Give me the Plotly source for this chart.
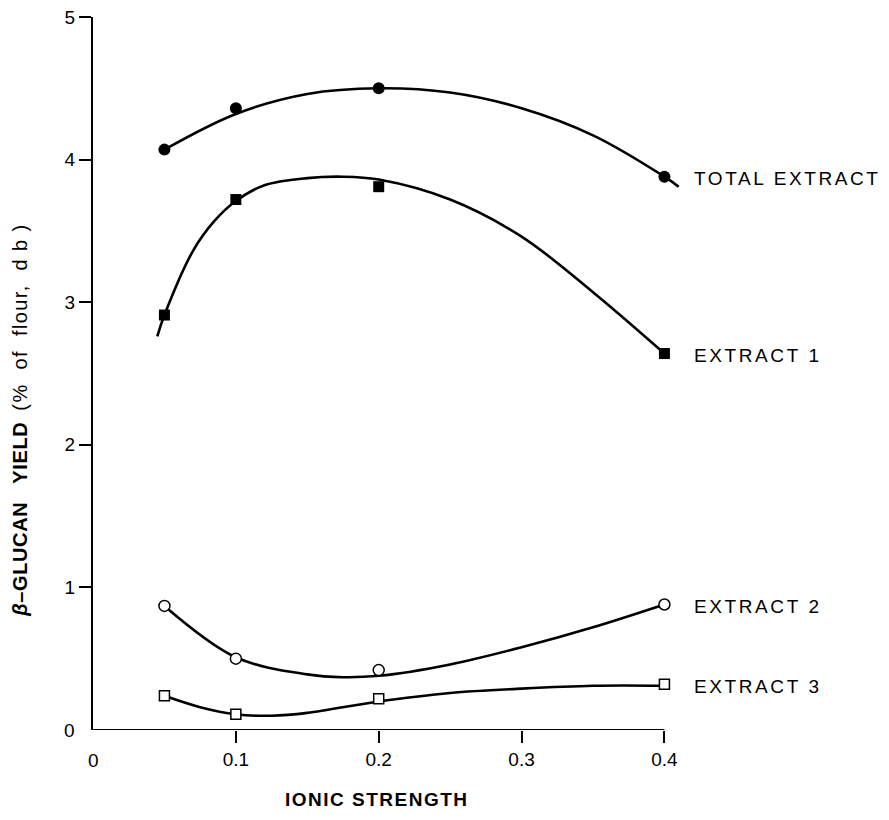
import plotly.graph_objects as go

# ---- data ----
ionic_strength = [0.05, 0.1, 0.2, 0.4]
total_extract = [4.07, 4.36, 4.50, 3.88]
extract_1 = [2.91, 3.72, 3.81, 2.64]
extract_2 = [0.87, 0.50, 0.42, 0.88]
extract_3 = [0.24, 0.11, 0.22, 0.32]

# hand-drawn smooth curves
total_curve_x = [0.05, 0.1, 0.15, 0.2, 0.25, 0.3, 0.35, 0.4, 0.41]
total_curve_y = [4.07, 4.32, 4.46, 4.50, 4.47, 4.36, 4.17, 3.88, 3.81]
ext1_curve_x = [0.045, 0.05, 0.07, 0.085, 0.1, 0.12, 0.15, 0.175, 0.2, 0.25, 0.3, 0.35, 0.4]
ext1_curve_y = [2.76, 2.91, 3.36, 3.57, 3.71, 3.82, 3.87, 3.88, 3.86, 3.72, 3.46, 3.07, 2.64]
ext2_curve_x = [0.05, 0.1, 0.15, 0.175, 0.2, 0.25, 0.3, 0.35, 0.4]
ext2_curve_y = [0.87, 0.51, 0.39, 0.37, 0.38, 0.46, 0.58, 0.72, 0.88]
ext3_curve_x = [0.05, 0.075, 0.1, 0.125, 0.15, 0.2, 0.25, 0.3, 0.35, 0.4]
ext3_curve_y = [0.24, 0.16, 0.11, 0.10, 0.12, 0.20, 0.26, 0.29, 0.31, 0.31]

series_names = ["TOTAL EXTRACT", "EXTRACT 1", "EXTRACT 2", "EXTRACT 3"]
x_tick_vals = [0.1, 0.2, 0.3, 0.4]
x_tick_text = ["0.1", "0.2", "0.3", "0.4"]
y_tick_vals = [1, 2, 3, 4, 5]
y_tick_text = ["1", "2", "3", "4", "5"]

FONT = "Liberation Sans, Arial"

fig = go.Figure()

series = [
    (total_curve_x, total_curve_y, total_extract, dict(symbol="circle", size=12, color="black")),
    (ext1_curve_x, ext1_curve_y, extract_1, dict(symbol="square", size=11, color="black")),
    (ext2_curve_x, ext2_curve_y, extract_2, dict(symbol="circle", size=11, color="white",
                                                  line=dict(color="black", width=1.5))),
    (ext3_curve_x, ext3_curve_y, extract_3, dict(symbol="square", size=10, color="white",
                                                  line=dict(color="black", width=1.5))),
]

for (cx, cy, vals, mk), name in zip(series, series_names):
    fig.add_trace(go.Scatter(x=cx, y=cy, mode="lines", line=dict(color="black", width=2.6, shape="spline", smoothing=1.0),
                             showlegend=False, hoverinfo="skip", cliponaxis=False))
    fig.add_trace(go.Scatter(x=ionic_strength, y=vals, mode="markers", marker=mk, name=name,
                             showlegend=False, cliponaxis=False))
    fig.add_annotation(x=ionic_strength[-1], y=vals[-1], xref="x", yref="y",
                       text="<span style='letter-spacing:2.6px'>" + name + "</span>",
                       showarrow=False, xanchor="left", yanchor="middle", xshift=28, yshift=-2,
                       font=dict(family=FONT, size=19, color="black"))

# x axis line (from 0 to the last tick)
fig.add_shape(type="line", xref="x", yref="y", x0=0, x1=max(x_tick_vals), y0=0, y1=0,
              line=dict(color="black", width=2))

# zero labels at the origin (no tick marks there in the original)
fig.add_annotation(x=0, y=0, xref="x", yref="y", text="0", showarrow=False,
                   xanchor="center", yanchor="top", yshift=-18, font=dict(family=FONT, size=19, color="black"))
fig.add_annotation(x=0, y=0, xref="x", yref="y", text="0", showarrow=False,
                   xanchor="right", yanchor="middle", xshift=-16, font=dict(family=FONT, size=19, color="black"))

# axis titles
fig.add_annotation(xref="paper", yref="paper", x=0.473, y=-0.098,
                   text="<b><span style='letter-spacing:1.5px'>IONIC STRENGTH</span></b>",
                   showarrow=False, xanchor="center", yanchor="middle",
                   font=dict(family=FONT, size=19, color="black"))
fig.add_annotation(xref="paper", yref="paper", x=-0.122, y=0.435, textangle=-90,
                   text="<b><span style='letter-spacing:0.6px'><i>β</i>–GLUCAN   YIELD</span></b>  "
                        "<span style='font-size:20px;letter-spacing:1.4px'>(%  of  flour,  d b )</span>",
                   showarrow=False, xanchor="center", yanchor="middle",
                   font=dict(family=FONT, size=20, color="black"))

fig.update_layout(
    width=889, height=820,
    margin=dict(l=85, r=204, t=9, b=98, autoexpand=False),
    paper_bgcolor="white", plot_bgcolor="white",
    xaxis=dict(range=[0, 0.42], showline=False, showgrid=False, zeroline=False, automargin=False,
               ticks="outside", ticklen=12, tickwidth=2, tickcolor="black",
               tickvals=x_tick_vals, ticktext=x_tick_text,
               tickfont=dict(family=FONT, size=19, color="black")),
    yaxis=dict(range=[0, 5], showline=True, linewidth=2, linecolor="black",
               showgrid=False, zeroline=False, ticklabeloverflow="allow", automargin=False,
               ticks="outside", ticklen=12, tickwidth=2, tickcolor="black",
               tickvals=y_tick_vals, ticktext=y_tick_text,
               tickfont=dict(family=FONT, size=19, color="black")),
)

fig.write_html("out.html")
